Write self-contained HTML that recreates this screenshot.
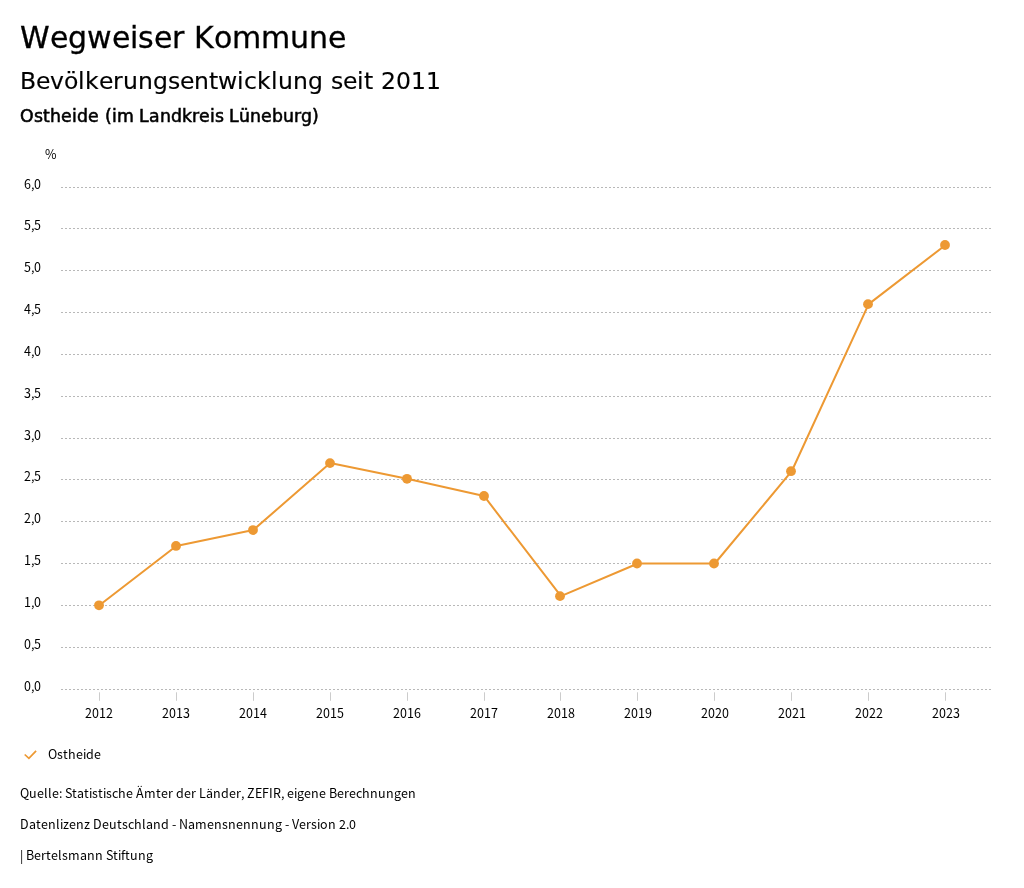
<!DOCTYPE html>
<html lang="de">
<head>
<meta charset="utf-8">
<title>Wegweiser Kommune</title>
<style>
html,body{margin:0;padding:0;background:#fff;}
body{width:1024px;height:888px;overflow:hidden;position:relative;}
svg{position:absolute;left:0;top:0;display:block;will-change:transform;}
text{font-kerning:none;white-space:pre;}
.hd{font-family:"DejaVu Sans","Liberation Sans",sans-serif;fill:#000;}
.tx{font-family:"Noto Sans CJK JP","Noto Sans CJK SC","Liberation Sans",sans-serif;font-size:12.5px;fill:#000;}
</style>
</head>
<body>
<svg width="1024" height="888" viewBox="0 0 1024 888">
<rect x="0" y="0" width="1024" height="888" fill="#ffffff"/>

<text class="hd" x="20 50 68 87 112 130 138 154 172 184 194 214 232 261 290 309 328" y="48" font-size="30" stroke="#000" stroke-width="0.3">Wegweiser Kommune</text>
<text class="hd" x="20 36 50 64 78 85 99 113 123 138 153 168 180 194 209 218 237 244 257 271 278 293 308 323 331 343 357 364 373 381 396 411 426" y="88.7" font-size="23.5" stroke="#000" stroke-width="0.15">Bevölkerungsentwicklung seit 2011</text>
<text class="hd" x="20 34 43 50 61 72 77 88 99 105 112 117 134 139 149 160 171 182 192 199 210 215 224 229 239 250 261 272 283 294 301 312" y="122" font-size="17.3" stroke="#000" stroke-width="0.55">Ostheide (im Landkreis Lüneburg)</text>
<text class="tx" x="45" y="159">%</text>
<g stroke="#b8b8b8" stroke-width="1" stroke-dasharray="2,2" fill="none">
<path d="M61 689.5H991"/>
<path d="M61 647.5H991"/>
<path d="M61 605.5H991"/>
<path d="M61 563.5H991"/>
<path d="M61 521.5H991"/>
<path d="M61 479.5H991"/>
<path d="M61 438.5H991"/>
<path d="M61 396.5H991"/>
<path d="M61 354.5H991"/>
<path d="M61 312.5H991"/>
<path d="M61 270.5H991"/>
<path d="M61 228.5H991"/>
<path d="M61 187.5H991"/>
</g>
<text class="tx" x="24 31 34" y="691">0,0</text>
<text class="tx" x="24 31 34" y="649">0,5</text>
<text class="tx" x="24 31 34" y="607">1,0</text>
<text class="tx" x="24 31 34" y="565">1,5</text>
<text class="tx" x="24 31 34" y="523">2,0</text>
<text class="tx" x="24 31 34" y="481">2,5</text>
<text class="tx" x="24 31 34" y="440">3,0</text>
<text class="tx" x="24 31 34" y="398">3,5</text>
<text class="tx" x="24 31 34" y="356">4,0</text>
<text class="tx" x="24 31 34" y="314">4,5</text>
<text class="tx" x="24 31 34" y="272">5,0</text>
<text class="tx" x="24 31 34" y="230">5,5</text>
<text class="tx" x="24 31 34" y="189">6,0</text>
<g stroke="#cccccc" stroke-width="1" fill="none">
<path d="M99.5 692.3V700.8"/>
<path d="M176.5 692.3V700.8"/>
<path d="M253.5 692.3V700.8"/>
<path d="M330.5 692.3V700.8"/>
<path d="M407.5 692.3V700.8"/>
<path d="M484.5 692.3V700.8"/>
<path d="M560.5 692.3V700.8"/>
<path d="M637.5 692.3V700.8"/>
<path d="M714.5 692.3V700.8"/>
<path d="M791.5 692.3V700.8"/>
<path d="M868.5 692.3V700.8"/>
<path d="M945.5 692.3V700.8"/>
</g>
<text class="tx" x="85 92 99 106" y="718">2012</text>
<text class="tx" x="162 169 176 183" y="718">2013</text>
<text class="tx" x="239 246 253 260" y="718">2014</text>
<text class="tx" x="316 323 330 337" y="718">2015</text>
<text class="tx" x="393 400 407 414" y="718">2016</text>
<text class="tx" x="470 477 484 491" y="718">2017</text>
<text class="tx" x="547 554 561 568" y="718">2018</text>
<text class="tx" x="624 631 638 645" y="718">2019</text>
<text class="tx" x="701 708 715 722" y="718">2020</text>
<text class="tx" x="778 785 792 799" y="718">2021</text>
<text class="tx" x="855 862 869 876" y="718">2022</text>
<text class="tx" x="932 939 946 953" y="718">2023</text>
<polyline points="99.40,605.33 176.32,545.93 253.25,530.03 330.17,463.10 407.10,478.83 484.02,495.98 560.95,596.13 637.88,563.50 714.80,563.50 791.72,471.22 868.65,304.13 945.57,244.98" fill="none" stroke="#ed9933" stroke-width="2" stroke-linejoin="round" stroke-linecap="round"/>
<g fill="#ed9933">
<circle cx="99" cy="605.33" r="4.9"/>
<circle cx="176" cy="545.93" r="4.9"/>
<circle cx="253" cy="530.03" r="4.9"/>
<circle cx="330" cy="463.10" r="4.9"/>
<circle cx="407" cy="478.83" r="4.9"/>
<circle cx="484" cy="495.98" r="4.9"/>
<circle cx="560" cy="596.13" r="4.9"/>
<circle cx="637" cy="563.50" r="4.9"/>
<circle cx="714" cy="563.50" r="4.9"/>
<circle cx="791" cy="471.22" r="4.9"/>
<circle cx="868" cy="304.13" r="4.9"/>
<circle cx="945" cy="244.98" r="4.9"/>
</g>
<path d="M24.7 754.5L28.9 758.4L36.1 750.8" fill="none" stroke="#ed9933" stroke-width="1.7"/>
<text class="tx" x="48 57 63 68 76 83 86 94" y="759">Ostheide</text>
<text class="tx" x="20 29 37 44 48 52 59 62 65 72 77 84 89 92 98 103 106 112 118 126 133 136 144 156 161 168 173 176 184 191 196 199 206 213 221 229 236 241 244 247 255 262 269 273 281 284 287 294 297 304 311 319 326 329 337 344 349 356 362 370 378 386 394 401 408" y="798">Quelle: Statistische Ämter der Länder, ZEFIR, eigene Berechnungen</text>
<text class="tx" x="20 29 36 41 48 56 60 63 69 76 84 90 93 102 109 117 122 128 134 142 146 153 161 169 172 176 179 188 195 207 214 222 228 236 243 251 259 267 275 282 285 289 292 299 306 311 317 320 328 336 339 346 349" y="829">Datenlizenz Deutschland - Namensnennung - Version 2.0</text>
<text class="tx" x="20 23 26 34 41 46 51 58 62 68 80 87 95 103 106 113 118 121 125 130 138 146" y="860">| Bertelsmann Stiftung</text>
</svg>
</body>
</html>
